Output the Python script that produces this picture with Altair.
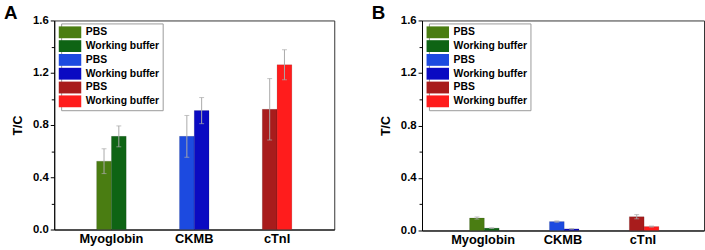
import altair as alt
import pandas as pd

proteins = ["Myoglobin", "CKMB", "cTnI"]
buffers = ["PBS", "Working buffer"]

# Panel A
a_pbs = [0.523, 0.713, 0.920]
a_pbs_err = [0.095, 0.160, 0.235]
a_wb = [0.713, 0.910, 1.261]
a_wb_err = [0.080, 0.100, 0.115]

# Panel B
b_pbs = [0.095, 0.068, 0.105]
b_pbs_err = [0.008, 0.005, 0.016]
b_wb = [0.018, 0.012, 0.030]
b_wb_err = [0.003, 0.002, 0.004]

keys = [f"{p}|{b}" for p in proteins for b in buffers]
colors = ["#4a7d12", "#0e6414", "#1c4ae0", "#0a0ac2", "#a81c1c", "#ff1c1c"]

major_ticks = [0.0, 0.4, 0.8, 1.2, 1.6]
minor_ticks = [0.2, 0.6, 1.0, 1.4]


def make_df(pbs, pbs_err, wb, wb_err):
    rows = []
    for i, p in enumerate(proteins):
        for b, v, e in ((buffers[0], pbs[i], pbs_err[i]), (buffers[1], wb[i], wb_err[i])):
            rows.append(dict(protein=p, buffer=b, key=f"{p}|{b}", value=v, lo=v - e, hi=v + e))
    return pd.DataFrame(rows)


def panel(df, letter, w, h, pi, po, title_dx):
    x = alt.X(
        "protein:N", sort=proteins,
        scale=alt.Scale(paddingInner=pi, paddingOuter=po),
        axis=alt.Axis(title=None, labelAngle=0, ticks=False, labelFontSize=13,
                      labelFontWeight="bold", labelColor="black", domainColor="black",
                      labelPadding=3),
    )
    xo = alt.XOffset("buffer:N", sort=buffers, scale=alt.Scale(paddingInner=0, paddingOuter=0))
    yscale = alt.Scale(domain=[0, 1.6], nice=False, zero=True)

    bars = alt.Chart(df).mark_bar(stroke="#00000040", strokeWidth=0.5).encode(
        x=x, xOffset=xo,
        y=alt.Y("value:Q", scale=yscale,
                axis=alt.Axis(values=major_ticks, format=".1f", title="T/C", orient="left",
                              labelFontSize=11.5, labelFontWeight="bold", labelColor="black",
                              titleFontSize=12.5, titleFontWeight="bold", titleColor="black",
                              tickSize=4, tickColor="black", domainColor="black",
                              titlePadding=8, labelPadding=2, grid=False)),
        color=alt.Color("key:N", scale=alt.Scale(domain=keys, range=colors),
                        legend=alt.Legend(
                            title=None, orient="none", legendX=7, legendY=3,
                            labelExpr="split(datum.label, '|')[1]",
                            symbolType="M-1.9,-1H1.9V1H-1.9Z", symbolSize=144,
                            symbolStrokeWidth=0, symbolOpacity=1,
                            labelFontSize=10.5, labelFontWeight="bold", labelColor="black",
                            labelOffset=10, rowPadding=2, padding=3,
                            strokeColor="#999999", fillColor="white")),
    )
    err = alt.Chart(df).mark_rule(color="#aaaaaa", strokeWidth=1).encode(
        x=x, xOffset=xo,
        y=alt.Y("lo:Q", scale=yscale,
                axis=alt.Axis(values=minor_ticks, labels=False, domain=False, title=None,
                              orient="left", tickSize=3, tickColor="black", grid=False)),
        y2="hi:Q",
    )
    cap = alt.Chart(df).mark_tick(color="#aaaaaa", thickness=1, size=5).encode(
        x=x, xOffset=xo,
        y=alt.Y("hi:Q", scale=yscale, axis=None),
    )
    cap_lo = alt.Chart(df).mark_tick(color="#aaaaaa", thickness=1, size=5).encode(
        x=x, xOffset=xo,
        y=alt.Y("lo:Q", scale=yscale, axis=None),
    )
    return alt.layer(bars, err, cap, cap_lo).resolve_axis(y="independent").properties(
        width=w, height=h,
        title=alt.TitleParams(letter, anchor="start", frame="bounds", fontSize=19,
                              fontWeight="bold", color="black", dx=title_dx, offset=-8),
    )


pa = panel(make_df(a_pbs, a_pbs_err, a_wb, a_wb_err), "A", 284, 212, 0.643, 0.512, -8)
pb = panel(make_df(b_pbs, b_pbs_err, b_wb, b_wb_err), "B", 286, 213, 0.66, 0.595, -8)

chart = alt.hconcat(pa, pb, spacing=36).resolve_scale(color="independent").properties(
    padding={"left": 3, "top": 1, "right": 0, "bottom": 0}
).configure(font="Liberation Sans").configure_view(stroke="#333333", strokeWidth=1)

chart.save("out.html", embed_options={"renderer": "svg", "actions": False})
